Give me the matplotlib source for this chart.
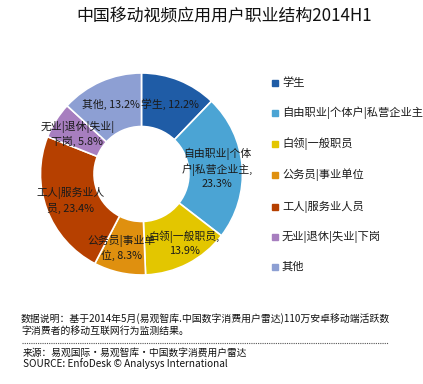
import matplotlib
matplotlib.use("Agg")
import matplotlib.pyplot as plt
from matplotlib.lines import Line2D

plt.rcParams['font.family'] = ['Noto Sans CJK SC', 'DejaVu Sans']

# 数据
categories = ['学生', '自由职业|个体户|私营企业主', '白领|一般职员', '公务员|事业单位',
              '工人|服务业人员', '无业|退休|失业|下岗', '其他']
shares = [12.2, 23.3, 13.9, 8.3, 23.4, 5.8, 13.2]
pie_labels = ['学生, 12.2%', '自由职业|个体\n户|私营企业主,\n23.3%', '白领|一般职员,\n13.9%',
              '公务员|事业单\n位, 8.3%', '工人|服务业人\n员, 23.4%', '无业|退休|失业|\n下岗, 5.8%',
              '其他, 13.2%']
colors = ['#1F5CA6', '#4BA4D4', '#E3C600', '#DF900F', '#B64000', '#A77EBF', '#8D9FD3']

fig = plt.figure(figsize=(4.23, 3.84), dpi=100)

ax = fig.add_axes([0.0957, 0.2839, 0.4775, 0.526])
wedges, texts = ax.pie(shares, labels=pie_labels, colors=colors, startangle=90,
                       counterclock=False, radius=1.0, labeldistance=0.75,
                       wedgeprops=dict(width=0.53, edgecolor='white', linewidth=1.2),
                       textprops=dict(fontsize=7.8, color='#1a1a1a', linespacing=1.35))
for t in texts:
    t.set_ha('center')
    t.set_va('center')
    t.set_multialignment('center')
# 白领标签略向右移，减少与公务员标签的重叠
x, y = texts[2].get_position()
texts[2].set_position((x + 0.08, y - 0.02))
x, y = texts[3].get_position()
texts[3].set_position((x - 0.03, y))
ax.set_xlim(-1, 1)
ax.set_ylim(-1, 1)
ax.set_aspect('equal')

fig.text(224 / 423, 1 - 16 / 384, '中国移动视频应用用户职业结构2014H1',
         ha='center', va='center', fontsize=12.2, color='#111111')

# 图例
legend_y = [83, 113, 144, 175, 207, 237, 267]
for name, c, y in zip(categories, colors, legend_y):
    fig.patches.append(plt.Rectangle((272 / 423, 1 - (y + 3) / 384), 6 / 423, 6 / 384,
                                     transform=fig.transFigure, color=c))
    fig.text(282 / 423, 1 - y / 384, name, ha='left', va='center', fontsize=8.1,
             color='#1a1a1a')

# 说明与来源
fig.text(21 / 423, 1 - 319 / 384,
         '数据说明：基于2014年5月(易观智库.中国数字消费用户雷达)110万安卓移动端活跃数',
         ha='left', va='center', fontsize=7.1, color='#111111')
fig.text(21 / 423, 1 - 331 / 384, '字消费者的移动互联网行为监测结果。',
         ha='left', va='center', fontsize=7.1, color='#111111')
fig.add_artist(Line2D([22 / 423, 388 / 423], [1 - 343 / 384, 1 - 343 / 384],
                      transform=fig.transFigure, color='#555555', linewidth=0.8,
                      linestyle=(0, (1, 1))))
fig.text(23 / 423, 1 - 353 / 384, '来源：易观国际·易观智库·中国数字消费用户雷达',
         ha='left', va='center', fontsize=7.0, color='#111111')
fig.text(23 / 423, 1 - 364 / 384, 'SOURCE: EnfoDesk © Analysys International',
         ha='left', va='center', fontsize=7.2, color='#111111')

fig.savefig('out.png', dpi=100)
